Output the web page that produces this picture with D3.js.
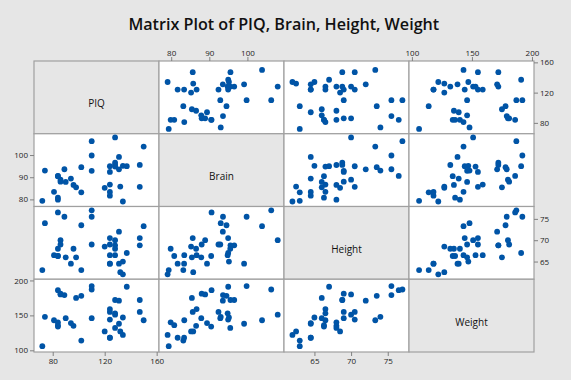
<!DOCTYPE html>
<html>
<head>
<meta charset="utf-8">
<script src="https://cdn.jsdelivr.net/npm/d3@7"></script>
<style>
  html, body { margin: 0; padding: 0; background: #e6e6e6; }
  svg { display: block; }
</style>
</head>
<body>
<script>
// ---- Data (iqsize: 38 observations) ----
const piq    = [124,150,128,134,110,131,98,84,147,124,128,124,147,90,96,120,102,84,86,84,134,128,102,131,84,110,72,124,132,137,110,86,81,128,124,94,74,89];
const brain  = [81.69,103.84,96.54,95.15,92.88,99.13,85.43,90.49,95.55,83.39,107.95,92.41,85.65,87.89,86.54,85.22,94.51,80.80,88.91,90.59,79.06,95.50,83.18,93.55,79.86,106.25,79.35,86.67,85.78,94.96,99.79,88.00,83.43,94.81,94.94,89.40,93.00,93.59];
const height = [64.5,73.3,68.8,65.0,69.0,64.5,66.0,66.3,68.8,64.5,70.0,69.0,70.5,66.0,68.0,68.5,73.5,66.3,70.0,76.5,62.0,68.0,63.0,72.0,68.0,77.0,63.0,66.5,62.5,67.0,75.5,69.0,66.5,66.5,70.5,64.5,74.0,75.5];
const weight = [118,143,172,147,146,138,175,134,172,118,151,155,155,146,135,127,178,136,180,186,122,132,114,171,140,187,106,159,127,191,192,181,143,153,144,139,148,179];

const varNames    = ["PIQ", "Brain", "Height", "Weight"];
const piqTicks    = [80, 120, 160];
const brainTicks  = [80, 90, 100];
const heightTicks = [65, 70, 75];
const weightTicks = [100, 150, 200];
const titleText   = "Matrix Plot of PIQ, Brain, Height, Weight";

// axis ranges (as shown on the plot)
const piqDomain    = [65.6, 161.8];
const brainDomain  = [76.8, 109.6];
const heightDomain = [60.85, 77.9];
const weightDomain = [97.6, 201.7];

const vars = [
  { name: varNames[0], values: piq,    domain: piqDomain,    ticks: piqTicks },
  { name: varNames[1], values: brain,  domain: brainDomain,  ticks: brainTicks },
  { name: varNames[2], values: height, domain: heightDomain, ticks: heightTicks },
  { name: varNames[3], values: weight, domain: weightDomain, ticks: weightTicks }
];

const W = 571, H = 380;
const gx = 34, gy = 61, cw = 125, ch = 72.75;
const n = vars.length;
const bg = "#e6e6e6";
const dotColor = "#0054a6";
const borderColor = "#a0a0a0";

const svg = d3.select("body").append("svg").attr("width", W).attr("height", H);
svg.append("rect").attr("width", W).attr("height", H).attr("fill", bg);

const xS = vars.map((v, j) => d3.scaleLinear().domain(v.domain).range([gx + j * cw, gx + (j + 1) * cw]));
const yS = vars.map((v, i) => d3.scaleLinear().domain(v.domain).range([gy + (i + 1) * ch, gy + i * ch]));

// Title
const title = svg.append("text")
  .attr("x", 283.8).attr("y", 30)
  .attr("text-anchor", "middle")
  .attr("font-family", "'Open Sans', 'Noto Sans', sans-serif")
  .attr("font-weight", 600)
  .attr("font-size", 17)
  .attr("fill", "#111")
  .text(titleText);
const tl = title.node().getComputedTextLength();
title.attr("font-size", 17 * 311 / tl);

// Cells
for (let i = 0; i < n; i++) {
  for (let j = 0; j < n; j++) {
    const g = svg.append("g");
    const x = gx + j * cw, y = gy + i * ch;
    g.append("rect")
      .attr("x", x).attr("y", y).attr("width", cw).attr("height", ch)
      .attr("fill", i === j ? bg : "#ffffff")
      .attr("stroke", borderColor).attr("stroke-width", 1.2);
    if (i === j) {
      g.append("text")
        .attr("x", x + cw / 2).attr("y", y + ch / 2 + 10)
        .attr("text-anchor", "middle")
        .attr("font-family", "'Open Sans', 'Noto Sans', sans-serif")
        .attr("font-size", 10)
        .attr("fill", "#111")
        .text(vars[i].name);
    }
  }
}

// Points
for (let i = 0; i < n; i++) {
  for (let j = 0; j < n; j++) {
    if (i === j) continue;
    const xv = vars[j].values, yv = vars[i].values;
    svg.append("g").selectAll("circle")
      .data(d3.range(xv.length))
      .join("circle")
      .attr("cx", k => xS[j](xv[k]))
      .attr("cy", k => yS[i](yv[k]))
      .attr("r", 2.9)
      .attr("fill", dotColor);
  }
}

// Axes
function styleAxis(g) {
  g.select(".domain").remove();
  g.selectAll(".tick line").attr("stroke", "#808080");
  g.selectAll(".tick text")
    .attr("font-family", "'Open Sans', 'Noto Sans', sans-serif")
    .attr("font-size", 8)
    .attr("fill", "#222");
}
for (let j = 0; j < n; j++) {
  if (j % 2 === 1) {
    svg.append("g").attr("transform", `translate(0,${gy})`)
      .call(d3.axisTop(xS[j]).tickValues(vars[j].ticks).tickSize(4).tickPadding(1).tickFormat(d3.format("d")))
      .call(styleAxis);
  } else {
    svg.append("g").attr("transform", `translate(0,${gy + n * ch})`)
      .call(d3.axisBottom(xS[j]).tickValues(vars[j].ticks).tickSize(4).tickPadding(2).tickFormat(d3.format("d")))
      .call(styleAxis);
  }
}
for (let i = 0; i < n; i++) {
  if (i % 2 === 0) {
    svg.append("g").attr("transform", `translate(${gx + n * cw},0)`)
      .call(d3.axisRight(yS[i]).tickValues(vars[i].ticks).tickSize(4).tickPadding(2).tickFormat(d3.format("d")))
      .call(styleAxis);
  } else {
    svg.append("g").attr("transform", `translate(${gx},0)`)
      .call(d3.axisLeft(yS[i]).tickValues(vars[i].ticks).tickSize(4).tickPadding(2).tickFormat(d3.format("d")))
      .call(styleAxis);
  }
}
</script>
</body>
</html>
